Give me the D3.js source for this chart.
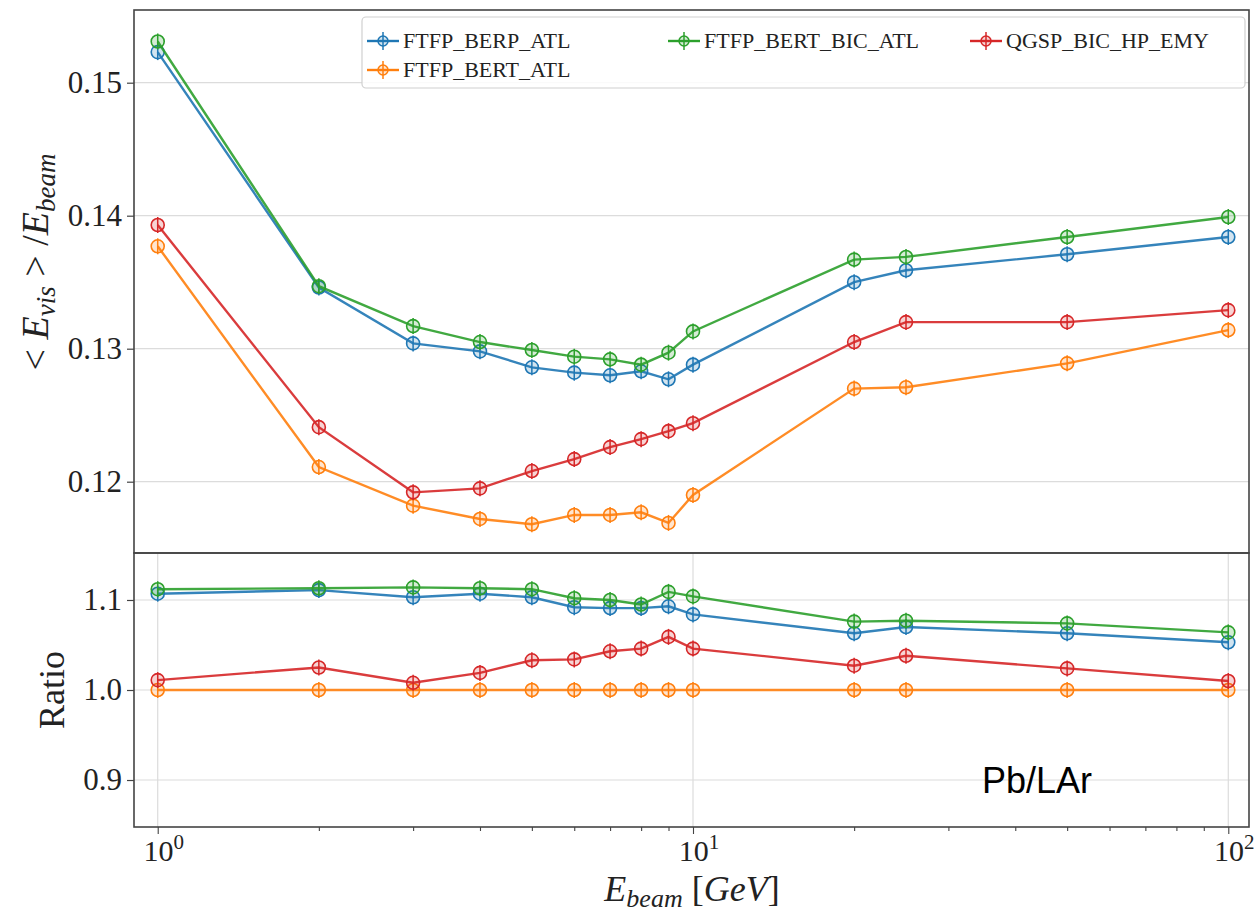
<!DOCTYPE html>
<html>
<head>
<meta charset="utf-8">
<script src="https://cdn.jsdelivr.net/npm/d3@7"></script>
<style>
  body { margin: 0; background: #fff; }
  svg text { font-family: "Liberation Serif", "DejaVu Serif", serif; fill: #222; }
</style>
</head>
<body>
<div id="chart"></div>
<script>
// Beam energies (GeV)
const energies = [1, 2, 3, 4, 5, 6, 7, 8, 9, 10, 20, 25, 50, 100];

// <E_vis>/E_beam per physics list
const berpAtl   = [0.1523, 0.1346, 0.1304, 0.1298, 0.1286, 0.1282, 0.1280, 0.1283, 0.1277, 0.1288, 0.1350, 0.1359, 0.1371, 0.1384];
const bertAtl   = [0.1377, 0.1211, 0.1182, 0.1172, 0.1168, 0.1175, 0.1175, 0.1177, 0.1169, 0.1190, 0.1270, 0.1271, 0.1289, 0.1314];
const bertBicAtl= [0.1531, 0.1347, 0.1317, 0.1305, 0.1299, 0.1294, 0.1292, 0.1288, 0.1297, 0.1313, 0.1367, 0.1369, 0.1384, 0.1399];
const qgspBicHp = [0.1393, 0.1241, 0.1192, 0.1195, 0.1208, 0.1217, 0.1226, 0.1232, 0.1238, 0.1244, 0.1305, 0.1320, 0.1320, 0.1329];

// Ratio to FTFP_BERT_ATL
const berpRatio   = [1.107, 1.111, 1.103, 1.107, 1.103, 1.092, 1.091, 1.091, 1.093, 1.084, 1.063, 1.070, 1.063, 1.053];
const bertRatio   = [1.000, 1.000, 1.000, 1.000, 1.000, 1.000, 1.000, 1.000, 1.000, 1.000, 1.000, 1.000, 1.000, 1.000];
const bertBicRatio= [1.112, 1.113, 1.114, 1.113, 1.112, 1.102, 1.100, 1.095, 1.109, 1.104, 1.076, 1.077, 1.074, 1.064];
const qgspRatio   = [1.011, 1.025, 1.008, 1.019, 1.033, 1.034, 1.043, 1.046, 1.059, 1.046, 1.027, 1.038, 1.024, 1.010];

const seriesNames = ["FTFP_BERP_ATL", "FTFP_BERT_ATL", "FTFP_BERT_BIC_ATL", "QGSP_BIC_HP_EMY"];
const seriesColors = ["#1f77b4", "#ff7f0e", "#2ca02c", "#d62728"];
const topTicks = [0.12, 0.13, 0.14, 0.15];
const ratioTicks = [0.9, 1.0, 1.1];
const xMajorTicks = [1, 10, 100];

const topValues = [berpAtl, bertAtl, bertBicAtl, qgspBicHp];
const ratioValues = [berpRatio, bertRatio, bertBicRatio, qgspRatio];

const W = 1254, H = 912;
const left = 134, right = 1249;
const topY0 = 10, topY1 = 553, botY1 = 827;

const svg = d3.select("#chart").append("svg")
  .attr("width", W).attr("height", H);

const x = d3.scaleLog()
  .domain([Math.pow(10, -0.0443), Math.pow(10, 2.0387)])
  .range([left, right]);
const yTop = d3.scaleLinear().domain([0.114639, 0.155466]).range([topY1, topY0]);
const yBot = d3.scaleLinear().domain([0.8478, 1.1522]).range([botY1, topY1]);

const gridColor = "#dcdcdc";
const axisColor = "#444";

// Horizontal grid lines
svg.append("g").selectAll("line").data(topTicks).join("line")
  .attr("x1", left).attr("x2", right)
  .attr("y1", d => yTop(d)).attr("y2", d => yTop(d))
  .attr("stroke", gridColor).attr("stroke-width", 1.2);
svg.append("g").selectAll("line").data(ratioTicks).join("line")
  .attr("x1", left).attr("x2", right)
  .attr("y1", d => yBot(d)).attr("y2", d => yBot(d))
  .attr("stroke", gridColor).attr("stroke-width", 1.2);
// Vertical grid on ratio panel
svg.append("g").selectAll("line").data(xMajorTicks).join("line")
  .attr("x1", d => x(d)).attr("x2", d => x(d))
  .attr("y1", topY1).attr("y2", botY1)
  .attr("stroke", gridColor).attr("stroke-width", 1.2);

// Draw series
function drawSeries(values, yScale) {
  const line = d3.line()
    .x((d, i) => x(energies[i]))
    .y(d => yScale(d));
  values.forEach((vals, s) => {
    const g = svg.append("g");
    const color = seriesColors[s];
    g.append("path")
      .datum(vals)
      .attr("fill", "none")
      .attr("stroke", color)
      .attr("stroke-width", 2.4)
      .attr("stroke-opacity", 0.9)
      .attr("d", line);
    const pts = g.selectAll("g.pt").data(vals).join("g")
      .attr("transform", (d, i) => `translate(${x(energies[i])},${yScale(d)})`);
    pts.append("line")
      .attr("y1", -8).attr("y2", 8)
      .attr("stroke", color).attr("stroke-width", 1.5);
    pts.append("circle")
      .attr("r", 6.5)
      .attr("fill", color).attr("fill-opacity", 0.2)
      .attr("stroke", color).attr("stroke-width", 1.6);
  });
}
drawSeries(topValues, yTop);
drawSeries(ratioValues, yBot);

// Frames
svg.append("rect").attr("x", left).attr("y", topY0)
  .attr("width", right - left).attr("height", topY1 - topY0)
  .attr("fill", "none").attr("stroke", axisColor).attr("stroke-width", 1.6);
svg.append("rect").attr("x", left).attr("y", topY1)
  .attr("width", right - left).attr("height", botY1 - topY1)
  .attr("fill", "none").attr("stroke", axisColor).attr("stroke-width", 1.6);

// Y axes
const yAxisTop = svg.append("g").attr("transform", `translate(${left},0)`)
  .call(d3.axisLeft(yTop).tickValues(topTicks).tickFormat(d3.format(".2f")).tickSize(7).tickPadding(5));
const yAxisBot = svg.append("g").attr("transform", `translate(${left},0)`)
  .call(d3.axisLeft(yBot).tickValues(ratioTicks).tickFormat(d3.format(".1f")).tickSize(7).tickPadding(5));
[yAxisTop, yAxisBot].forEach(a => {
  a.select(".domain").remove();
  a.selectAll("line").attr("stroke", axisColor).attr("stroke-width", 1.2);
  a.selectAll("text").attr("font-size", 31).attr("font-family", "Liberation Serif").attr("fill", "#222");
});

// X axis with minor ticks
const allTicks = x.ticks();
const xAxis = svg.append("g").attr("transform", `translate(0,${botY1})`)
  .call(d3.axisBottom(x).tickValues(allTicks).tickFormat("").tickSize(4));
xAxis.select(".domain").remove();
xAxis.selectAll(".tick line")
  .attr("y2", d => xMajorTicks.includes(d) ? 7 : 4)
  .attr("stroke", axisColor).attr("stroke-width", 1.1);
xMajorTicks.forEach(v => {
  const t = svg.append("text")
    .attr("x", x(v) + 6).attr("y", botY1 + 34)
    .attr("text-anchor", "middle")
    .attr("font-size", 30);
  t.append("tspan").text("10");
  t.append("tspan").attr("dy", -12).attr("font-size", 21).text(Math.log10(v));
});

// Axis labels
const xl = svg.append("text")
  .attr("x", 692).attr("y", 901)
  .attr("text-anchor", "middle").attr("font-size", 36);
xl.append("tspan").attr("font-style", "italic").text("E");
xl.append("tspan").attr("font-style", "italic").attr("font-size", 26).attr("dy", 6).text("beam");
xl.append("tspan").attr("dy", -6).text(" [");
xl.append("tspan").attr("font-style", "italic").text("GeV");
xl.append("tspan").text("]");

const yl = svg.append("text")
  .attr("transform", "translate(48,262) rotate(-90)")
  .attr("text-anchor", "middle").attr("font-size", 38);
yl.append("tspan").text("< ");
yl.append("tspan").attr("font-style", "italic").text("E");
yl.append("tspan").attr("font-style", "italic").attr("font-size", 27).attr("dy", 7).text("vis");
yl.append("tspan").attr("dy", -7).text(" > /");
yl.append("tspan").attr("font-style", "italic").text("E");
yl.append("tspan").attr("font-style", "italic").attr("font-size", 27).attr("dy", 7).text("beam");

svg.append("text")
  .attr("transform", "translate(64,690) rotate(-90)")
  .attr("text-anchor", "middle").attr("font-size", 36)
  .text("Ratio");

// Pb/LAr annotation
svg.append("text")
  .attr("x", 982).attr("y", 793)
  .style("font-family", "'Liberation Sans', Arial, sans-serif")
  .attr("font-size", 36)
  .style("fill", "#000")
  .text("Pb/LAr");

// Legend
const legend = svg.append("g");
legend.append("rect")
  .attr("x", 362).attr("y", 17).attr("width", 883).attr("height", 71)
  .attr("rx", 4)
  .attr("fill", "#fff").attr("fill-opacity", 0.85)
  .attr("stroke", "#d0d0d0").attr("stroke-width", 1.2);
const legendPos = [[367, 41], [367, 70], [668, 41], [970, 41]];
seriesNames.forEach((name, i) => {
  const [lx, ly] = legendPos[i];
  const g = legend.append("g").attr("transform", `translate(${lx},${ly})`);
  const c = seriesColors[i];
  g.append("line").attr("x1", 0).attr("x2", 32).attr("stroke", c).attr("stroke-width", 2.4);
  g.append("line").attr("x1", 16).attr("x2", 16).attr("y1", -9).attr("y2", 9).attr("stroke", c).attr("stroke-width", 1.5);
  g.append("circle").attr("cx", 16).attr("r", 5)
    .attr("fill", c).attr("fill-opacity", 0.2).attr("stroke", c).attr("stroke-width", 1.5);
  g.append("text").attr("x", 36).attr("y", 7).attr("font-size", 22).text(name);
});
</script>
</body>
</html>
